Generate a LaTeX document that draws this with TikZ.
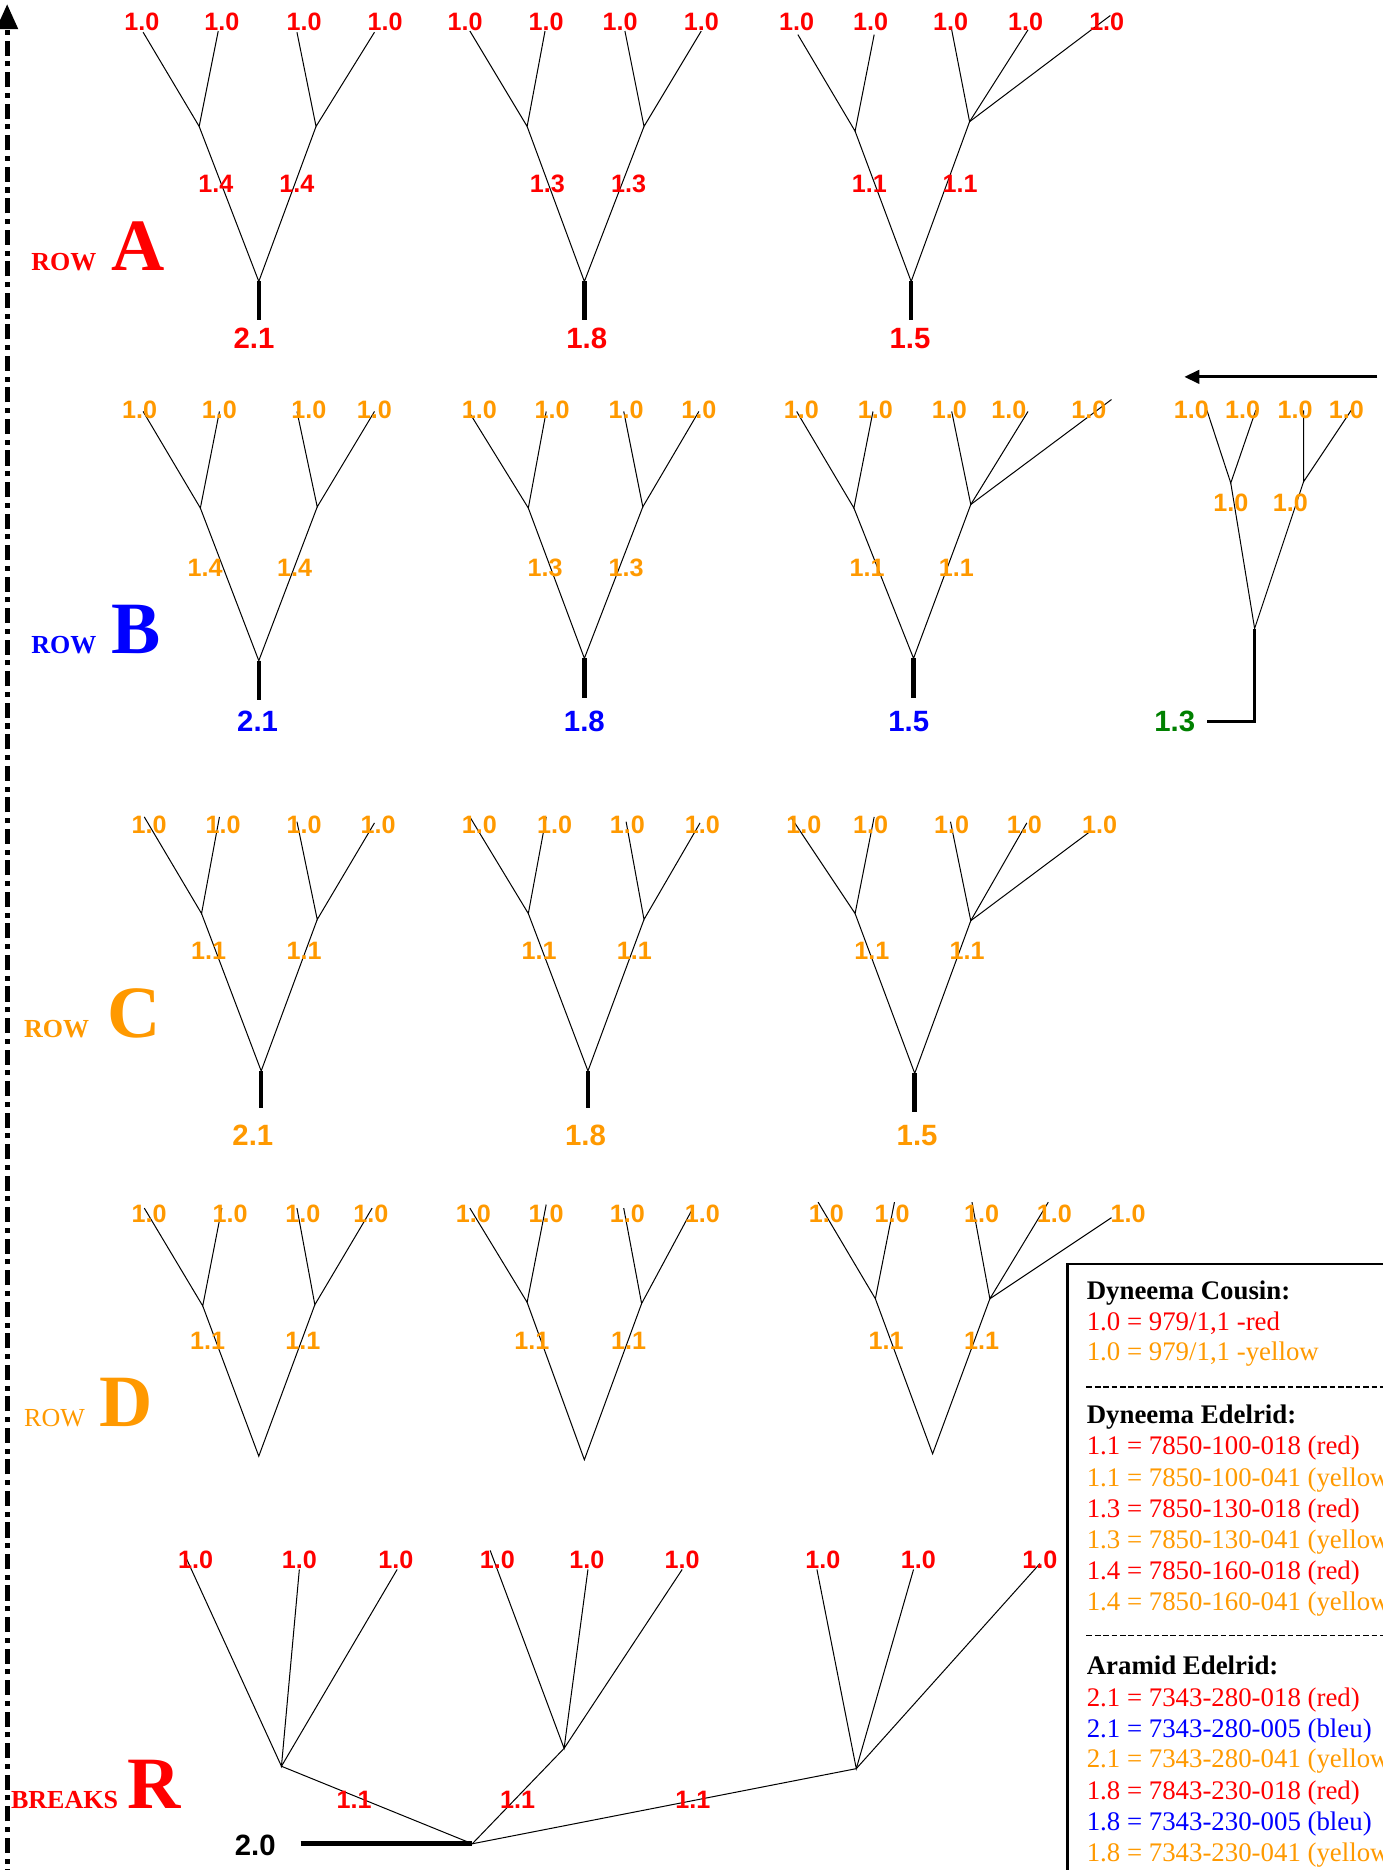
\documentclass[tikz,border=0pt]{standalone}
\usepackage{fontspec}
\setmainfont{Liberation Serif}
\newfontfamily\numfont{Liberation Sans}
\usetikzlibrary{arrows.meta}

\definecolor{rowred}{HTML}{FF0000}
\definecolor{roworange}{HTML}{FF9900}
\definecolor{rowblue}{HTML}{0000FF}
\definecolor{rowgreen}{HTML}{008000}

\tikzset{
  twig/.style={line width=0.6pt},
  stalk/.style={line width=2.7pt},
  num/.style={inner sep=0pt, font=\numfont\bfseries\fontsize{15}{18}\selectfont},
  rootnum/.style={inner sep=0pt, font=\numfont\bfseries\fontsize{17.5}{21}\selectfont},
  rowword/.style={inner sep=0pt, anchor=base west, font=\bfseries\fontsize{15.5}{18}\selectfont},
  rowletter/.style={inner sep=0pt, anchor=base west, font=\bfseries\fontsize{44}{50}\selectfont},
  legend/.style={inner sep=0pt, anchor=base west, font=\fontsize{16}{19}\selectfont},
  sep/.style={line width=1.1pt, dash pattern=on 3.4pt off 1.6pt}
}

\begin{document}
\begin{tikzpicture}[x=0.025cm, y=-0.025cm]

\useasboundingbox (0,0) rectangle (1159,1568);

% axis
\coordinate (axb) at (6,1580);
\coordinate (axt) at (6,3.4);
\draw[line width=2.8pt, dash pattern=on 9pt off 3.4pt on 3pt off 3.4pt,
      -{Triangle[length=15pt,width=12.5pt]}] (axb) -- (axt);

% row A
\foreach \n/\x/\y in {A1l1/120/27, A1l2/183/26, A1l3/249/27, A1l4/314/27,
    A1m1/167/106, A1m2/265/106, A1r/217/236, A1s/217/268,
    A2l1/394/26, A2l2/457/26, A2l3/524/26, A2l4/588/26,
    A2m1/442/106, A2m2/540/106, A2r/490/236, A2s/490/268,
    A3l1/669/29, A3l2/733/29, A3l3/798/25, A3l4/862/25, A3l5/931/13,
    A3m1/717/110, A3m2/813/102, A3r/764/236, A3s/764/268}
    \coordinate (\n) at (\x,\y);

% row B
\foreach \n/\x/\y in {B1l1/120/345, B1l2/184/345, B1l3/249/345, B1l4/314/345,
    B1m1/168/426, B1m2/266/425, B1r/217/554, B1s/217/587,
    B2l1/393/345, B2l2/458/345, B2l3/523/345, B2l4/586/345,
    B2m1/443/426, B2m2/539/425, B2r/490/552, B2s/490/585,
    B3l1/668/345, B3l2/732/345, B3l3/798/345, B3l4/862/345, B3l5/932/335,
    B3m1/716/426, B3m2/814/423, B3r/766/552, B3s/766/585,
    B4l1/1012/344, B4l2/1053/344, B4l3/1093/344, B4l4/1133/344,
    B4m1/1032/405, B4m2/1093/404, B4r/1052/527, B4s/1052/605, B4e/1012/605}
    \coordinate (\n) at (\x,\y);

% row C
\foreach \n/\x/\y in {C1l1/121/685, C1l2/184/685, C1l3/249/689, C1l4/314/690,
    C1m1/169/766, C1m2/266/771, C1r/219/898, C1s/219/929,
    C2l1/394/685, C2l2/458/685, C2l3/525/689, C2l4/587/690,
    C2m1/443/766, C2m2/540/771, C2r/493/898, C2s/493/929,
    C3l1/663/685, C3l2/733/685, C3l3/797/689, C3l4/861/690, C3l5/913/698,
    C3m1/717/766, C3m2/814/772, C3r/767/900, C3s/767/932}
    \coordinate (\n) at (\x,\y);

% row D
\foreach \n/\x/\y in {D1l1/121/1013, D1l2/186/1013, D1l3/249/1013, D1l4/312/1013,
    D1m1/170/1095, D1m2/264/1094, D1r/217/1221,
    D2l1/394/1013, D2l2/458/1010, D2l3/523/1013, D2l4/581/1013,
    D2m1/442/1092, D2m2/538/1093, D2r/490/1224,
    D3l1/686/1008, D3l2/750/1008, D3l3/815/1008, D3l4/879/1008, D3l5/932/1021,
    D3m1/734/1089, D3m2/830/1089, D3r/782/1219}
    \coordinate (\n) at (\x,\y);

% breaks
\foreach \n/\x/\y in {Rl1/155/1304, Rl2/251/1316, Rl3/333/1316,
    Rl4/411/1300, Rl5/493/1316, Rl6/572/1316,
    Rl7/685/1316, Rl8/766/1316, Rl9/872/1311,
    Rm1/236/1481, Rm2/473/1466, Rm3/718/1483, Rr/396/1546, Re/252/1546}
    \coordinate (\n) at (\x,\y);

% branches
\foreach \tr in {A1,A2,A3,B1,B2,B3,B4,C1,C2,C3,D1,D2,D3}{
    \draw[twig] (\tr l1) -- (\tr m1) -- (\tr l2);
    \draw[twig] (\tr l3) -- (\tr m2) -- (\tr l4);
    \draw[twig] (\tr m1) -- (\tr r) -- (\tr m2);
}
\foreach \tr in {A3,B3,C3,D3}
    \draw[twig] (\tr m2) -- (\tr l5);

\foreach \tr in {A1,A2,A3,B1,B2,B3,C1,C2,C3}
    \draw[stalk] (\tr r) -- (\tr s);
\draw[line width=1.6pt] (B4r) -- (B4s) -- (B4e);

\draw[twig] (Rl1) -- (Rm1) -- (Rl2);
\draw[twig] (Rl3) -- (Rm1) -- (Rr);
\draw[twig] (Rl4) -- (Rm2) -- (Rl5);
\draw[twig] (Rl6) -- (Rm2) -- (Rr);
\draw[twig] (Rl7) -- (Rm3) -- (Rl8);
\draw[twig] (Rl9) -- (Rm3) -- (Rr);
\draw[line width=3.2pt] (Re) -- (Rr);

% arrow
\coordinate (arS) at (1155,316);
\coordinate (arE) at (993,316);
\draw[line width=1.8pt, -{Triangle[length=9pt,width=8pt]}] (arS) -- (arE);

% labels row A
\foreach \x [count=\i] in {119,186,255,323,390,458,520,588,668,730,797,860,928}
    \node[num, text=rowred] (At\i) at (\x,18) {1.0};
\node[num, text=rowred] (A1k1) at (181,154) {1.4};
\node[num, text=rowred] (A1k2) at (249,154) {1.4};
\node[num, text=rowred] (A2k1) at (459,154) {1.3};
\node[num, text=rowred] (A2k2) at (527,154) {1.3};
\node[num, text=rowred] (A3k1) at (729,154) {1.1};
\node[num, text=rowred] (A3k2) at (805,154) {1.1};
\node[rootnum, text=rowred] (A1v) at (213,284) {2.1};
\node[rootnum, text=rowred] (A2v) at (492,284) {1.8};
\node[rootnum, text=rowred] (A3v) at (763,284) {1.5};
\node[rowword, text=rowred] (Aw) at (26,227) {ROW};
\node[rowletter, text=rowred] (Ab) at (93,227) {A};

% labels row B
\foreach \x [count=\i] in {117,184,259,314,402,463,525,586,672,734,796,846,913,999,1042,1086,1129}
    \node[num, text=roworange] (Bt\i) at (\x,344) {1.0};
\node[num, text=roworange] (B1k1) at (172,476) {1.4};
\node[num, text=roworange] (B1k2) at (247,476) {1.4};
\node[num, text=roworange] (B2k1) at (457,476) {1.3};
\node[num, text=roworange] (B2k2) at (525,476) {1.3};
\node[num, text=roworange] (B3k1) at (727,476) {1.1};
\node[num, text=roworange] (B3k2) at (802,476) {1.1};
\node[num, text=roworange] (B4k1) at (1032,422) {1.0};
\node[num, text=roworange] (B4k2) at (1082,422) {1.0};
\node[rootnum, text=rowblue] (B1v) at (216,605) {2.1};
\node[rootnum, text=rowblue] (B2v) at (490,605) {1.8};
\node[rootnum, text=rowblue] (B3v) at (762,605) {1.5};
\node[rootnum, text=rowgreen] (B4v) at (985,605) {1.3};
\node[rowword, text=rowblue] (Bw) at (26,548) {ROW};
\node[rowletter, text=rowblue] (Bb) at (93,548) {B};

% labels row C
\foreach \x [count=\i] in {125,187,255,317,402,465,526,589,674,730,798,859,922}
    \node[num, text=roworange] (Ct\i) at (\x,692) {1.0};
\foreach \x [count=\i] in {175,255,452,532,731,811}
    \node[num, text=roworange] (Ck\i) at (\x,797) {1.1};
\node[rootnum, text=roworange] (C1v) at (212,952) {2.1};
\node[rootnum, text=roworange] (C2v) at (491,952) {1.8};
\node[rootnum, text=roworange] (C3v) at (769,952) {1.5};
\node[rowword, text=roworange] (Cw) at (20,870) {ROW};
\node[rowletter, text=roworange] (Cb) at (90,870) {C};

% labels row D
\foreach \x [count=\i] in {125,193,254,311,397,458,526,589,693,748,823,884,946}
    \node[num, text=roworange] (Dt\i) at (\x,1018) {1.0};
\foreach \x [count=\i] in {174,254,446,527,743,823}
    \node[num, text=roworange] (Dk\i) at (\x,1124) {1.1};
\node[rowword, font=\mdseries\fontsize{15.5}{18}\selectfont, text=roworange] (Dw) at (20,1196) {ROW};
\node[rowletter, text=roworange] (Db) at (83,1196) {D};

% labels breaks
\foreach \x [count=\i] in {164,251,332,417,492,572,690,770,872}
    \node[num, text=rowred] (Rt\i) at (\x,1308) {1.0};
\foreach \x [count=\i] in {297,434,581}
    \node[num, text=rowred] (Rk\i) at (\x,1509) {1.1};
\node[rootnum] (Rv) at (214,1547) {2.0};
\node[rowword, text=rowred] (Rw) at (9,1516) {BREAKS};
\node[rowletter, text=rowred] (Rb) at (107,1516) {R};

% legend
\draw[line width=1.4pt] (895,1060) rectangle (1220,1620);
\node[legend, font=\bfseries\fontsize{16}{19}\selectfont] (lg1) at (911,1089.6) {Dyneema Cousin:};
\node[legend, text=rowred] (lg2) at (911,1115.4) {1.0 = 979/1,1 -red};
\node[legend, text=roworange] (lg3) at (911,1141) {1.0 = 979/1,1 -yellow};
\draw[sep] (911,1163) -- (1170,1163);
\node[legend, font=\bfseries\fontsize{16}{19}\selectfont] (lg4) at (911,1194) {Dyneema Edelrid:};
\node[legend, text=rowred] (lg5) at (911,1219.8) {1.1 = 7850-100-018 (red)};
\node[legend, text=roworange] (lg6) at (911,1246) {1.1 = 7850-100-041 (yellow)};
\node[legend, text=rowred] (lg7) at (911,1272.2) {1.3 = 7850-130-018 (red)};
\node[legend, text=roworange] (lg8) at (911,1298.4) {1.3 = 7850-130-041 (yellow)};
\node[legend, text=rowred] (lg9) at (911,1324.5) {1.4 = 7850-160-018 (red)};
\node[legend, text=roworange] (lg10) at (911,1350.5) {1.4 = 7850-160-041 (yellow)};
\draw[sep] (911,1371.3) -- (1170,1371.3);
\node[legend, font=\bfseries\fontsize{16}{19}\selectfont] (lg11) at (911,1404.4) {Aramid Edelrid:};
\node[legend, text=rowred] (lg12) at (911,1430.9) {2.1 = 7343-280-018 (red)};
\node[legend, text=rowblue] (lg13) at (911,1456.7) {2.1 = 7343-280-005 (bleu)};
\node[legend, text=roworange] (lg14) at (911,1482.3) {2.1 = 7343-280-041 (yellow)};
\node[legend, text=rowred] (lg15) at (911,1508.8) {1.8 = 7843-230-018 (red)};
\node[legend, text=rowblue] (lg16) at (911,1534.6) {1.8 = 7343-230-005 (bleu)};
\node[legend, text=roworange] (lg17) at (911,1561) {1.8 = 7343-230-041 (yellow)};

\end{tikzpicture}
\end{document}
